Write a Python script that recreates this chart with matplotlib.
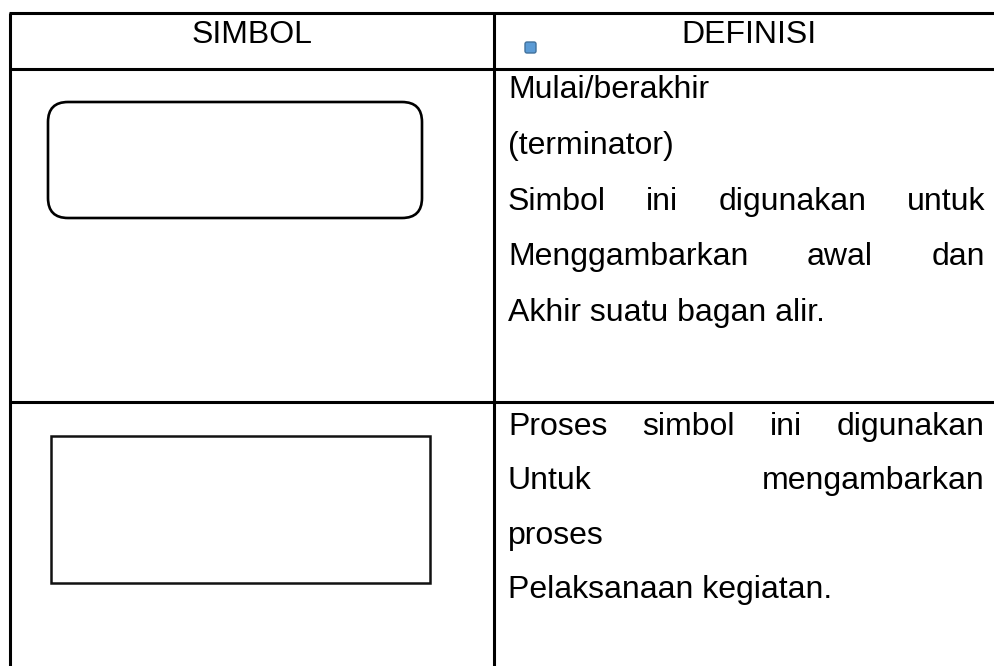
import matplotlib
matplotlib.use("Agg")
import matplotlib.pyplot as plt
from matplotlib.patches import FancyBboxPatch, Rectangle

plt.rcParams['font.family'] = ['Liberation Sans', 'DejaVu Sans']

# isi tabel
header = ["SIMBOL", "DEFINISI"]
row1_lines = ["Mulai/berakhir",
              "(terminator)",
              "Simbol ini digunakan untuk",
              "Menggambarkan awal dan",
              "Akhir suatu bagan alir."]
row1_justify = [False, False, True, True, False]
row2_lines = ["Proses simbol ini digunakan",
              "Untuk mengambarkan",
              "proses",
              "Pelaksanaan kegiatan."]
row2_justify = [True, True, False, False]

W, H = 995, 666
FS = 23.0
fig = plt.figure(figsize=(W / 100, H / 100), dpi=100)
ax = fig.add_axes([0, 0, 1, 1])
ax.set_xlim(0, W)
ax.set_ylim(H, 0)
ax.axis('off')

# garis tabel
lw = 2.2
x_left, x_mid, x_right = 10, 494, W
y_top, y_head, y_row = 13, 69, 402
for y in (y_top, y_head, y_row):
    ax.plot([x_left - 1, x_right], [y, y], color='black', lw=lw, solid_capstyle='butt')
for x in (x_left, x_mid):
    ax.plot([x, x], [y_top, H], color='black', lw=lw, solid_capstyle='butt')

# header
ax.text((x_left + x_mid) / 2, 43, header[0], fontsize=FS, ha='center', va='baseline')
ax.text((x_mid + x_right) / 2 + 4, 43, header[1], fontsize=FS, ha='center', va='baseline')

# kotak biru kecil
ax.add_patch(FancyBboxPatch((525, 42), 11, 11, boxstyle="round,pad=0,rounding_size=2",
                            facecolor='#5b9bd5', edgecolor='#41719c', lw=1))

# simbol terminator dan proses
ax.add_patch(FancyBboxPatch((48, 102), 374, 116, boxstyle="round,pad=0,rounding_size=20",
                            facecolor='none', edgecolor='black', lw=1.9))
ax.add_patch(Rectangle((51, 436), 379, 147, facecolor='none', edgecolor='#111111', lw=1.8))

fig.canvas.draw()
renderer = fig.canvas.get_renderer()


def draw_lines(lines, justify, y0, step, x0=508, x1=985):
    for i, (line, just) in enumerate(zip(lines, justify)):
        y = y0 + i * step
        if not just:
            ax.text(x0, y, line, fontsize=FS, ha='left', va='baseline')
            continue
        words = line.split()
        texts = [ax.text(0, y, w, fontsize=FS, ha='left', va='baseline') for w in words]
        widths = [t.get_window_extent(renderer).width for t in texts]
        gap = (x1 - x0 - sum(widths)) / (len(words) - 1)
        x = x0
        for t, w in zip(texts, widths):
            t.set_x(x)
            x += w + gap


draw_lines(row1_lines, row1_justify, 98, 55.8)
draw_lines(row2_lines, row2_justify, 435, 54.3)

fig.savefig("out.png", dpi=100, facecolor='white')
